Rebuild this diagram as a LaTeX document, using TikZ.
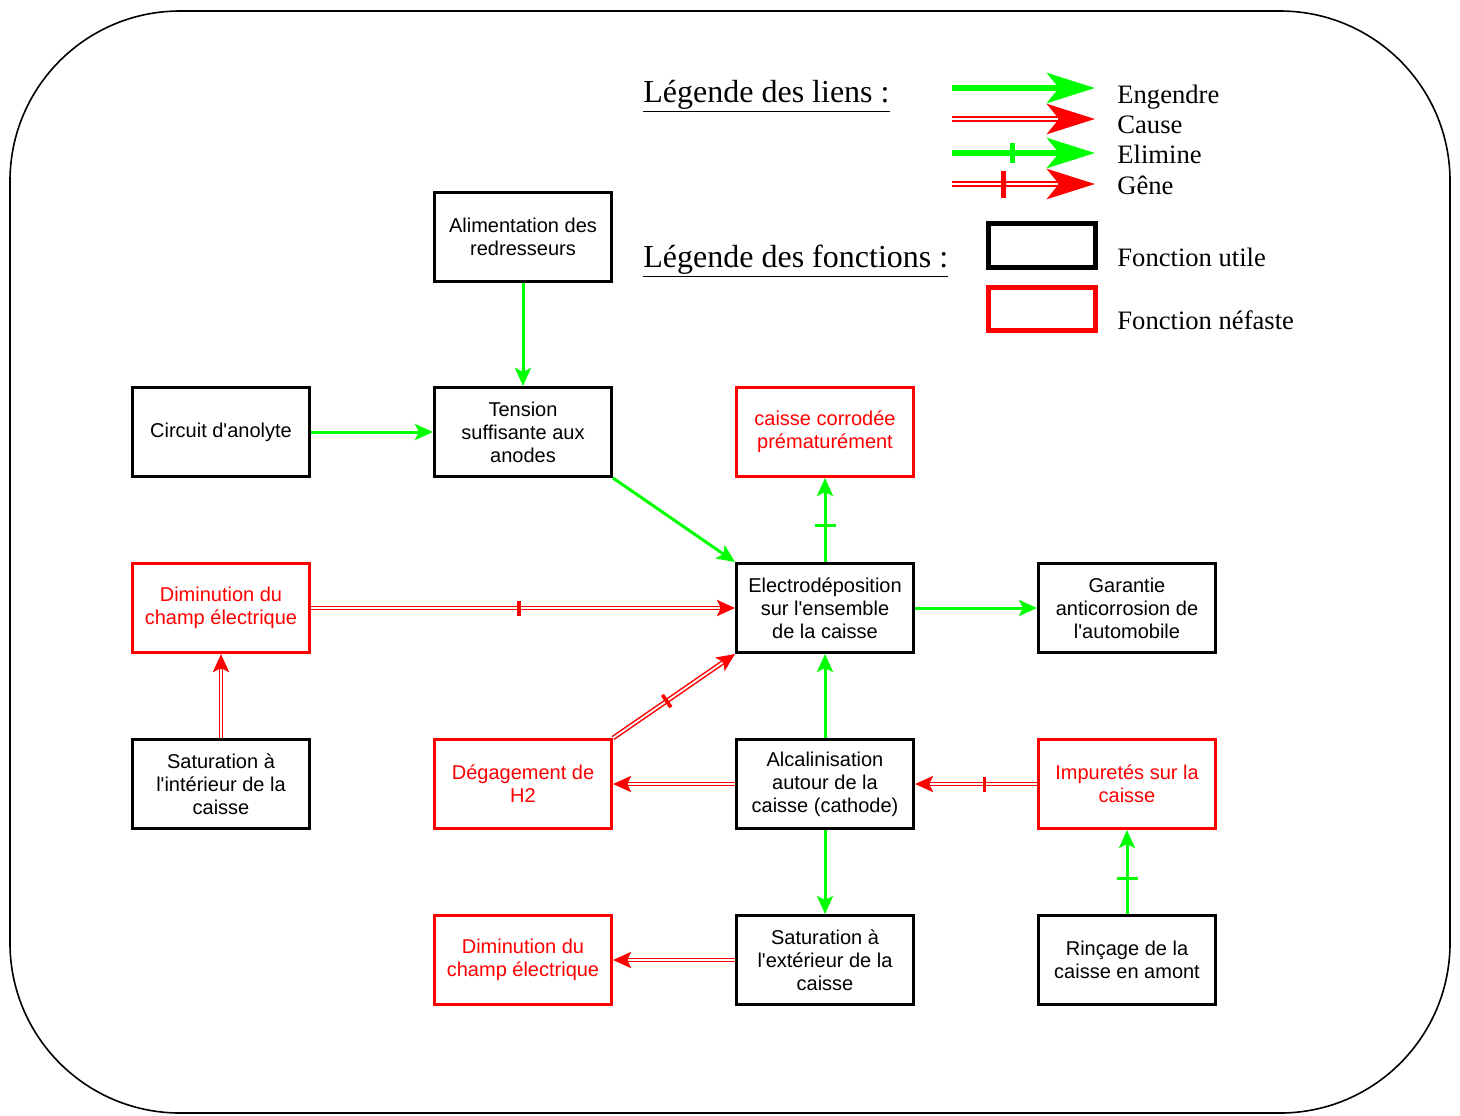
\documentclass[tikz,border=0pt]{standalone}
\usepackage{fontspec}
\setmainfont{Liberation Serif}
\newfontfamily\boxfont{Liberation Sans}
\usetikzlibrary{arrows.meta, positioning, decorations.markings}
\definecolor{lgreen}{RGB}{0,255,0}
\definecolor{lred}{RGB}{255,0,0}

\tikzset{
    smalltip/.tip={Stealth[length=9pt, width=8pt, inset=2pt]},
    bigtip/.tip={Stealth[length=24pt, width=15pt, inset=6pt]},
    engendre/.style={draw=lgreen, line width=1.5pt, -smalltip},
    elimine/.style={engendre, postaction={decorate, decoration={markings,
        mark=at position #1 with {\draw[-, shorten >=0pt, shorten <=0pt, lgreen, line width=1.5pt] (0,-5.25pt) -- (0,5.25pt);}}}},
    elimine/.default=0.43,
    cause/.style={draw=lred, line width=2.4pt, -smalltip,
        postaction={draw=white, line width=0.9pt, -, shorten >=7.5pt}},
    gene/.style={cause, postaction={decorate, decoration={markings,
        mark=at position #1 with {\draw[-, shorten >=0pt, shorten <=0pt, lred, line width=1.8pt] (0,-3.75pt) -- (0,3.75pt);}}}},
    gene/.default=0.44,
    legengendre/.style={draw=lgreen, line width=3pt, -bigtip},
    legelimine/.style={legengendre, postaction={decorate, decoration={markings,
        mark=at position 0.42 with {\draw[-, shorten >=0pt, shorten <=0pt, lgreen, line width=2.5pt] (0,-5pt) -- (0,5pt);}}}},
    legcause/.style={draw=lred, line width=3pt, -bigtip,
        postaction={draw=white, line width=1pt, -, shorten >=18.5pt}},
    leggene/.style={legcause, postaction={decorate, decoration={markings,
        mark=at position 0.36 with {\draw[-, shorten >=0pt, shorten <=0pt, lred, line width=2.5pt] (0,-6.75pt) -- (0,6.75pt);}}}}
}

\begin{document}
\begin{tikzpicture}[
    x=0.5pt, y=-0.5pt,
    node distance=42pt and 61pt,
    box/.style={draw, line width=1.5pt, minimum width=88.5pt, minimum height=44.5pt,
        align=center, inner sep=2pt, font=\boxfont\fontsize{10}{11.5}\selectfont},
    badbox/.style={box, draw=lred, text=lred},
    legtitle/.style={anchor=base west, inner sep=0pt, font=\fontsize{16}{19}\selectfont},
    legtext/.style={anchor=base west, inner sep=0pt, font=\fontsize{13.3}{15}\selectfont},
    legbox/.style={draw, line width=2.5pt, minimum width=53.5pt, minimum height=22pt, inner sep=0pt}
]
\useasboundingbox (0,0) rectangle (1460,1115);
\draw[line width=0.8pt, rounded corners=85pt] (10,11) rectangle (1450,1113);

%% Legende des liens
\node[legtitle] (titliens) at (643,102) {\underline{Légende des liens :}};
\coordinate (l1a) at (952,88);  \coordinate (l1b) at (1095,88);
\coordinate (l2a) at (952,119); \coordinate (l2b) at (1095,119);
\coordinate (l3a) at (952,153); \coordinate (l3b) at (1095,153);
\coordinate (l4a) at (952,184); \coordinate (l4b) at (1095,184);
\draw[legengendre] (l1a) -- (l1b);
\draw[legcause] (l2a) -- (l2b);
\draw[legelimine] (l3a) -- (l3b);
\draw[leggene] (l4a) -- (l4b);
\node[legtext] (txteng) at (1117,103) {Engendre};
\node[legtext] (txtcau) at (1117,133) {Cause};
\node[legtext] (txtelm) at (1117,163) {Elimine};
\node[legtext] (txtgen) at (1117,194) {Gêne};

%% Legende des fonctions
\node[legtitle] (titfonc) at (643,267) {\underline{Légende des fonctions :}};
\node[legbox] (legutile) at (1042,245) {};
\node[legbox, draw=lred, minimum height=21.5pt] (legnef) at (1042,309) {};
\node[legtext] (txtutile) at (1117,266) {Fonction utile};
\node[legtext] (txtnef) at (1117,329) {Fonction néfaste};

%% Fonctions
\node[box] (tens) at (523,432) {Tension\\suffisante aux\\anodes};
\node[box, above=51.5pt of tens] (alim) {Alimentation des\\redresseurs};
\node[box, left=of tens] (anol) {Circuit d'anolyte};
\node[box, below right=of tens] (elec) {Electrodéposition\\sur l'ensemble\\de la caisse};
\node[badbox, above=of elec] (corr) {caisse corrodée\\prématurément};
\node[box, right=of elec] (garant) {Garantie\\anticorrosion de\\l'automobile};
\node[badbox, below=of anol] (dimin1) {Diminution du\\champ électrique};
\node[box, below=of dimin1] (satint) {Saturation à\\l'intérieur de la\\caisse};
\node[box, below=of elec] (alca) {Alcalinisation\\autour de la\\caisse (cathode)};
\node[badbox, left=of alca] (h2) {Dégagement de\\H2};
\node[badbox, right=of alca] (impur) {Impuretés sur la\\caisse};
\node[box, below=of alca] (satext) {Saturation à\\l'extérieur de la\\caisse};
\node[badbox, left=of satext] (dimin2) {Diminution du\\champ électrique};
\node[box, right=of satext] (rinc) {Rinçage de la\\caisse en amont};

%% Liens
\draw[engendre] (alim) -- (tens);
\draw[engendre] (anol) -- (tens);
\draw[engendre] (tens.south east) -- (elec.north west);
\draw[elimine] (elec) -- (corr);
\draw[gene=0.49] (dimin1) -- (elec);
\draw[engendre] (elec) -- (garant);
\draw[cause] (satint) -- (dimin1);
\draw[gene] (h2.north east) -- (elec.south west);
\draw[engendre] (alca) -- (elec);
\draw[cause] (alca) -- (h2);
\draw[gene=0.43] (impur) -- (alca);
\draw[engendre] (alca) -- (satext);
\draw[cause] (satext) -- (dimin2);
\draw[elimine=0.42] (rinc) -- (impur);
\end{tikzpicture}
\end{document}
